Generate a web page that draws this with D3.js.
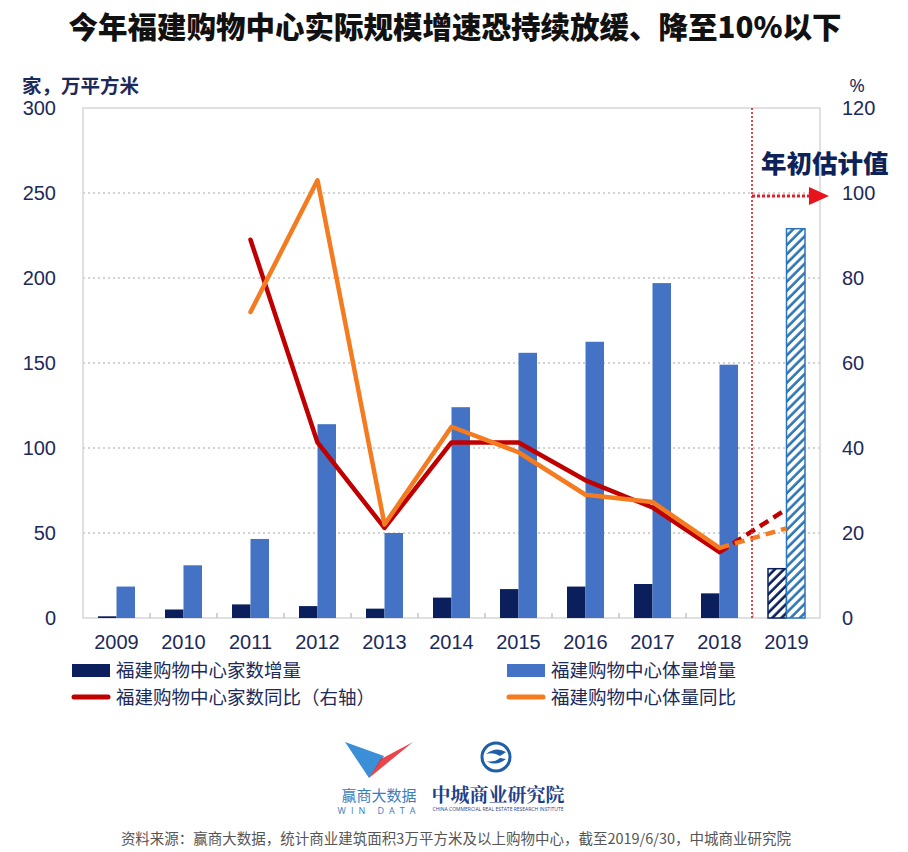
<!DOCTYPE html>
<meta charset="utf-8">
<title>今年福建购物中心实际规模增速恐持续放缓</title>
<style>
  html, body { margin: 0; padding: 0; background: #fff; }
  svg { display: block; font-family: 'Open Sans', 'Noto Sans CJK SC', sans-serif; }
  .tick text { fill: #1c2a5a; font-size: 20px; }
  .cjk { font-family: 'Noto Sans CJK SC', sans-serif; }
</style>
<svg width="908" height="852"></svg>
<script src="https://cdn.jsdelivr.net/npm/d3@7/dist/d3.min.js"></script>
<script>
  /* global d3 */
  'use strict'
  // Data
  const years = ['2009', '2010', '2011', '2012', '2013', '2014', '2015', '2016', '2017', '2018', '2019']
  const countAdded = [1, 5, 8, 7, 5.5, 12, 17, 18.5, 20, 14.5, 29]            // 家数增量 (left)
  const areaAdded = [18.5, 31, 46.5, 114, 50, 124, 156, 162.5, 197, 149, 229]  // 体量增量 (left)
  const countYoY = [null, null, 89, 41.3, 21.2, 41.3, 41.3, 32.4, 26, 15.5, 25.6]  // 家数同比 % (right)
  const areaYoY = [null, null, 72, 103, 22, 45, 39, 29, 27.3, 16.5, 21.1]          // 体量同比 % (right)
  const estimateYear = '2019'
  const leftTicks = [0, 50, 100, 150, 200, 250, 300]
  const rightTicks = [0, 20, 40, 60, 80, 100, 120]
  const legendItems = [
    { label: '福建购物中心家数增量', kind: 'bar', color: '#0b1f5c' },
    { label: '福建购物中心体量增量', kind: 'bar', color: '#4472c4' },
    { label: '福建购物中心家数同比（右轴）', kind: 'line', color: '#c00000' },
    { label: '福建购物中心体量同比', kind: 'line', color: '#f47b20' },
  ]

  const navy = '#0b1f5c', blue = '#4472c4', red = '#c00000', orange = '#f47b20'
  const ink = '#1c2a5a'
  const plot = { left: 83, right: 820, top: 108, bottom: 618 }

  const svg = d3.select('svg')

  const x = d3.scaleBand().domain(years).range([plot.left, plot.right])
  const sub = d3.scaleBand().domain(['count', 'area']).range([-18.5, 18.5])
  const yL = d3.scaleLinear().domain([0, 300]).range([plot.bottom, plot.top])
  const yR = d3.scaleLinear().domain([0, 120]).range([plot.bottom, plot.top])
  const cx = d => x(d) + x.bandwidth() / 2

  // hatch patterns for the estimate year
  const defs = svg.append('defs')
  ;[['hatchNavy', navy], ['hatchBlue', '#2e75b6']].forEach(([id, c]) => {
    const p = defs.append('pattern').attr('id', id)
      .attr('patternUnits', 'userSpaceOnUse').attr('width', 6.5).attr('height', 6.5)
      .attr('patternTransform', 'rotate(45)')
    p.append('rect').attr('width', 6.5).attr('height', 6.5).attr('fill', '#fff')
    p.append('line').attr('x1', 1.5).attr('x2', 1.5).attr('y1', 0).attr('y2', 6.5)
      .attr('stroke', c).attr('stroke-width', 2.6)
  })

  // title
  svg.append('text').attr('class', 'cjk')
    .attr('x', 455).attr('y', 38).attr('text-anchor', 'middle')
    .style('font-size', '29.5px').style('font-weight', 900).attr('fill', '#111')
    .text('今年福建购物中心实际规模增速恐持续放缓、降至10%以下')

  // axis titles
  svg.append('text').attr('class', 'cjk').attr('x', 22).attr('y', 93)
    .style('font-size', '19.5px').style('font-weight', 700).attr('fill', ink)
    .text('家，万平方米')
  svg.append('text').attr('x', 857).attr('y', 92).attr('text-anchor', 'middle')
    .style('font-size', '19px').attr('fill', ink).text('%')

  // gridlines
  svg.append('g').selectAll('line')
    .data(leftTicks.filter(v => v > 0 && v < 300))
    .join('line')
    .attr('x1', plot.left).attr('x2', plot.right)
    .attr('y1', d => yL(d)).attr('y2', d => yL(d))
    .attr('stroke', '#c4c4c4').attr('stroke-width', 1.5).attr('stroke-dasharray', '2,3')

  // plot frame
  svg.append('rect')
    .attr('x', plot.left).attr('y', plot.top)
    .attr('width', plot.right - plot.left).attr('height', plot.bottom - plot.top)
    .attr('fill', 'none').attr('stroke', '#d6d6d6').attr('stroke-width', 1.5)

  // small category separators on the x axis
  svg.append('g').selectAll('line')
    .data(years.slice(1))
    .join('line')
    .attr('x1', d => x(d)).attr('x2', d => x(d))
    .attr('y1', plot.bottom).attr('y2', plot.bottom - 5)
    .attr('stroke', '#c4c4c4').attr('stroke-width', 1.5)

  // axes
  svg.append('g').attr('transform', `translate(${plot.left},0)`)
    .call(d3.axisLeft(yL).tickValues(leftTicks).tickSize(0).tickPadding(27))
    .call(g => g.select('.domain').remove())
  svg.append('g').attr('transform', `translate(${plot.right},0)`)
    .call(d3.axisRight(yR).tickValues(rightTicks).tickSize(0).tickPadding(22))
    .call(g => g.select('.domain').remove())
  svg.append('g').attr('transform', `translate(0,${plot.bottom})`)
    .call(d3.axisBottom(x).tickSize(0).tickPadding(17))
    .call(g => g.select('.domain').remove())

  // bars
  const barRows = years.map((yr, i) => [
    { yr, key: 'count', v: countAdded[i] },
    { yr, key: 'area', v: areaAdded[i] },
  ]).flat()
  svg.append('g').selectAll('rect')
    .data(barRows)
    .join('rect')
    .attr('x', d => cx(d.yr) + sub(d.key))
    .attr('width', sub.bandwidth())
    .attr('y', d => yL(d.v))
    .attr('height', d => yL(0) - yL(d.v))
    .attr('fill', d => d.yr === estimateYear
      ? (d.key === 'count' ? 'url(#hatchNavy)' : 'url(#hatchBlue)')
      : (d.key === 'count' ? navy : blue))
    .attr('stroke', d => d.yr === estimateYear ? (d.key === 'count' ? navy : '#2e75b6') : 'none')
    .attr('stroke-width', 1.5)

  // lines: solid up to 2018, dashed to the 2019 estimate
  const line = d3.line().x(d => cx(d.yr)).y(d => yR(d.v))
  const lastActual = years.indexOf(estimateYear) - 1
  ;[[countYoY, red], [areaYoY, orange]].forEach(([vals, color]) => {
    const pts = years.map((yr, i) => ({ yr, v: vals[i] })).filter(d => d.v != null)
    const solid = pts.filter(d => years.indexOf(d.yr) <= lastActual)
    const dashed = pts.filter(d => years.indexOf(d.yr) >= lastActual)
    svg.append('path').attr('d', line(solid))
      .attr('fill', 'none').attr('stroke', color).attr('stroke-width', 4.5)
      .attr('stroke-linejoin', 'round').attr('stroke-linecap', 'round')
    svg.append('path').attr('d', line(dashed))
      .attr('fill', 'none').attr('stroke', color).attr('stroke-width', 4.5)
      .attr('stroke-dasharray', '10,6')
  })

  // estimate marker: red dotted divider, arrow and label
  const divX = x(estimateYear) - 1
  svg.append('line').attr('x1', divX).attr('x2', divX)
    .attr('y1', plot.top).attr('y2', plot.bottom)
    .attr('stroke', '#d9373d').attr('stroke-width', 1.8).attr('stroke-dasharray', '2,2')
  const arrowY = yR(100) + 3
  svg.append('line').attr('x1', divX).attr('x2', 811)
    .attr('y1', arrowY).attr('y2', arrowY)
    .attr('stroke', '#e0202a').attr('stroke-width', 3).attr('stroke-dasharray', '3,2')
  svg.append('path')
    .attr('d', `M809,${arrowY - 9}L829,${arrowY}L809,${arrowY + 9}Z`)
    .attr('fill', '#e8141b')
  svg.append('text').attr('class', 'cjk')
    .attr('x', 761).attr('y', 173)
    .style('font-size', '25.5px').style('font-weight', 900).attr('fill', '#0d2258')
    .text('年初估计值')

  // legend
  const lg = svg.append('g').attr('class', 'cjk')
  legendItems.forEach((d, i) => {
    const gx = i % 2 === 0 ? 72 : 507
    const gy = i < 2 ? 670 : 697
    if (d.kind === 'bar') {
      lg.append('rect').attr('x', gx).attr('y', gy - 6).attr('width', 38).attr('height', 13)
        .attr('fill', d.color)
    } else {
      lg.append('line').attr('x1', gx + 2).attr('x2', gx + 36).attr('y1', gy).attr('y2', gy)
        .attr('stroke', d.color).attr('stroke-width', 5).attr('stroke-linecap', 'round')
    }
    lg.append('text').attr('x', gx + 44).attr('y', gy).attr('dy', '0.36em')
      .style('font-size', '18.5px').attr('fill', ink).text(d.label)
  })

  // logos (simplified)
  const logo = svg.append('g')
  logo.append('path').attr('d', 'M345,742L384,756L369,778Z').attr('fill', '#3a8fd6')
  logo.append('path').attr('d', 'M369,778L413,742L381,759Z').attr('fill', '#e8464a')
  logo.append('path').attr('d', 'M369,778L384,756L381,759Z').attr('fill', '#b03040')
  logo.append('text').attr('class', 'cjk').attr('x', 379).attr('y', 801)
    .attr('text-anchor', 'middle').style('font-size', '15px').attr('fill', '#3a7cc0')
    .text('赢商大数据')
  logo.append('text').attr('x', 379).attr('y', 814)
    .attr('text-anchor', 'middle').style('font-size', '9px').style('letter-spacing', '5px')
    .attr('fill', '#3a7cc0').text('WIN DATA')
  logo.append('circle').attr('cx', 496).attr('cy', 757).attr('r', 14)
    .attr('fill', 'none').attr('stroke', '#1f5fa8').attr('stroke-width', 3)
  logo.append('path').attr('d', 'M486,754Q496,746 506,752L500,756Q494,752 486,754Z').attr('fill', '#1f5fa8')
  logo.append('path').attr('d', 'M486,761Q496,767 506,759L500,758Q494,763 486,761Z').attr('fill', '#1f5fa8')
  logo.append('text').attr('x', 498).attr('y', 802)
    .attr('text-anchor', 'middle')
    .style('font-family', "'Noto Serif CJK SC', 'Noto Sans CJK SC', serif")
    .style('font-size', '19px').style('font-weight', 700).attr('fill', '#1e3f8a')
    .text('中城商业研究院')
  logo.append('text').attr('x', 498).attr('y', 811)
    .attr('text-anchor', 'middle').style('font-size', '5px').attr('fill', '#1e3f8a')
    .text('CHINA COMMERCIAL REAL ESTATE RESEARCH INSTITUTE')

  // source
  svg.append('text').attr('class', 'cjk')
    .attr('x', 456).attr('y', 844).attr('text-anchor', 'middle')
    .style('font-size', '14.5px').attr('fill', '#555')
    .text('资料来源：赢商大数据，统计商业建筑面积3万平方米及以上购物中心，截至2019/6/30，中城商业研究院')
</script>
